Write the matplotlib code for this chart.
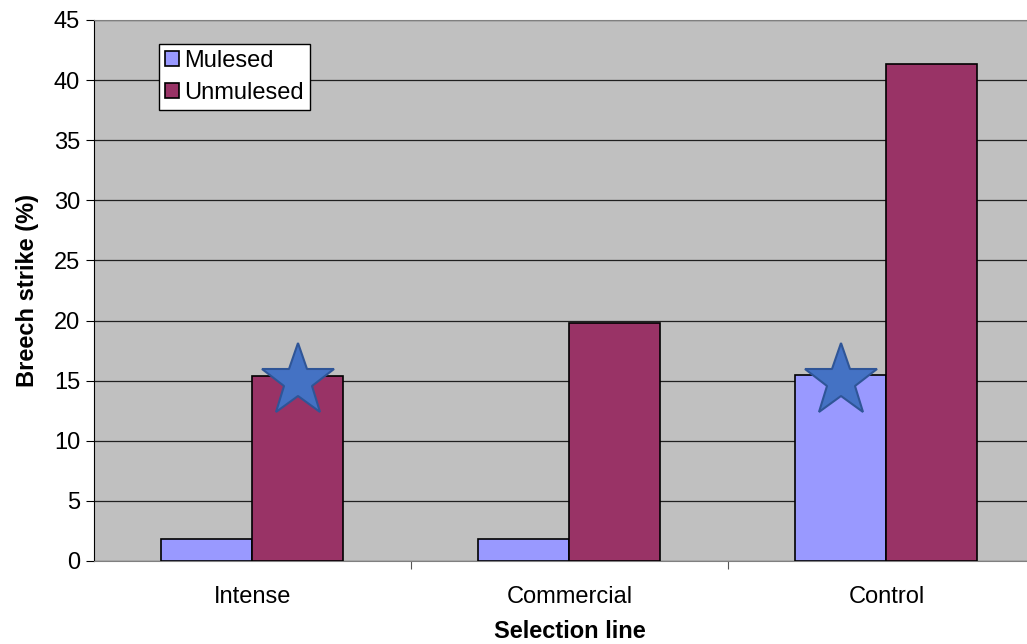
import matplotlib.pyplot as plt
import numpy as np

plt.rcParams['font.family'] = ['Liberation Sans', 'DejaVu Sans']

lines = ['Intense', 'Commercial', 'Control']
mulesed = [1.8, 1.8, 15.5]
unmulesed = [15.4, 19.8, 41.3]
# which bar gets a star: (category index, series)
stars = [(0, 'Unmulesed'), (2, 'Mulesed')]
star_y = 15

fig = plt.figure(figsize=(10.27, 6.44), dpi=100)
ax = fig.add_axes([0.0915, 0.1289, 0.926, 0.8401])

x = np.arange(len(lines))
w = 0.287
ax.bar(x - w / 2, mulesed, w, color='#9999FF', edgecolor='black', linewidth=1.2,
       label='Mulesed', zorder=3)
ax.bar(x + w / 2, unmulesed, w, color='#993366', edgecolor='black', linewidth=1.2,
       label='Unmulesed', zorder=3)

for i, s in stars:
    sx = x[i] - w / 2 if s == 'Mulesed' else x[i] + w / 2
    ax.plot(sx, star_y, marker='*', markersize=55, color='#4472C4',
            markeredgecolor='#2F5597', markeredgewidth=1.5, zorder=4)

ax.set_facecolor('#C0C0C0')
ax.set_xlim(-0.5, 2.5)
ax.set_ylim(0, 45)
ax.set_yticks(np.arange(0, 46, 5))
ax.yaxis.grid(True, color='#202020', linewidth=0.9, zorder=0)
ax.set_axisbelow(True)

fs = 17

# category labels centered, ticks at boundaries
ax.set_xticks([0.5, 1.5], minor=False)
ax.set_xticklabels([])
ax.set_xticks(x, minor=True)
ax.set_xticklabels(lines, minor=True, fontsize=fs)
ax.tick_params(axis='x', which='minor', length=0, pad=18)
ax.tick_params(axis='x', which='major', length=6, color='#555555', direction='out')
ax.tick_params(axis='y', labelsize=fs, length=6, direction='out', pad=4)

for side in ['top', 'right']:
    ax.spines[side].set_color('#808080')
ax.spines['bottom'].set_color('#808080')
ax.spines['left'].set_color('black')

ax.set_ylabel('Breech strike (%)', fontsize=fs, fontweight='bold', labelpad=11)
ax.set_xlabel('Selection line', fontsize=fs, fontweight='bold', labelpad=9)

leg = ax.legend(loc='upper left', bbox_to_anchor=(0.068, 0.955), fontsize=fs,
                frameon=True, fancybox=False, edgecolor='black', framealpha=1,
                handlelength=0.6, handleheight=0.6, handletextpad=0.25,
                borderpad=0.25, labelspacing=0.4, borderaxespad=0)
leg.get_frame().set_linewidth(1.0)

fig.savefig('out.png', dpi=100)
